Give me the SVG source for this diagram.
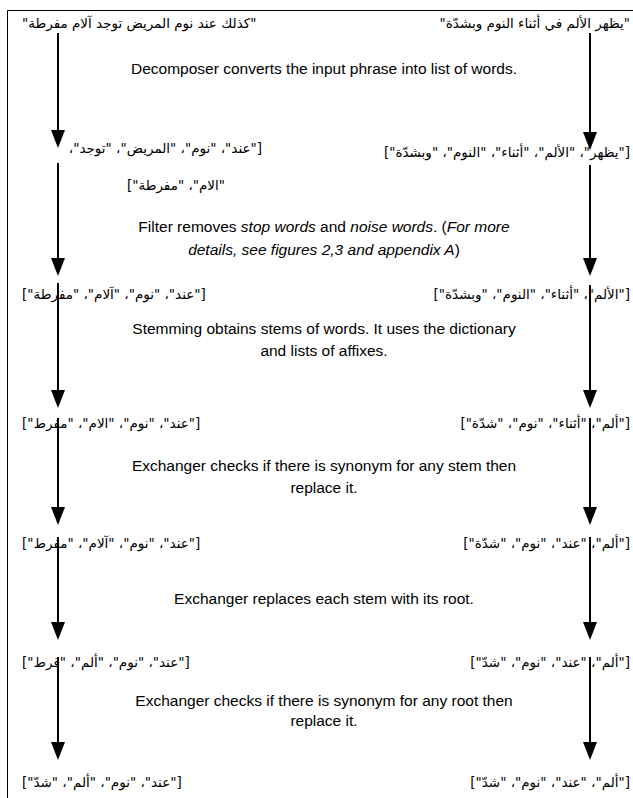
<svg xmlns="http://www.w3.org/2000/svg" width="633" height="798" viewBox="0 0 633 798">
  <defs>
    <style>
      .frame { stroke: #000; stroke-width: 1; fill: none; }
      .en { font-family: "Liberation Sans", Arial, sans-serif; font-size: 15.5px; fill: #000; text-anchor: middle; }
      .it { font-style: italic; }
      .ar { font-family: "DejaVu Sans", "Noto Sans", sans-serif; font-size: 13.5px; fill: #000; direction: rtl; unicode-bidi: embed; }
      .ar-r { text-anchor: start; }
      .ar-l { text-anchor: end; }
      #connectors line { stroke: #000; stroke-width: 2; marker-end: url(#head); }
    </style>
    <!-- downward filled arrowhead; line end sits 4px above the tip -->
    <marker id="head" viewBox="0 0 14 18" refX="7" refY="14" markerWidth="14" markerHeight="18" markerUnits="userSpaceOnUse" orient="0">
      <path d="M0,0 L14,0 L7,18 Z" fill="#000"/>
    </marker>
  </defs>

  <rect width="633" height="798" fill="#fff"/>
  <!-- page frame (top and left edges) -->
  <path class="frame" d="M7.5,798 V10.5 H633"/>

  <!-- left column: second sentence -->
  <g id="left-input"><text class="ar ar-l" x="22" y="28">"كذلك عند نوم المريض توجد آلام مفرطة"</text></g>
  <g id="left-words">
    <text class="ar ar-r" x="262" y="153">["عند"، "نوم"، "المريض"، "توجد"،</text>
    <text class="ar ar-r" x="225" y="190">"الام"، "مفرطة"]</text>
  </g>
  <g id="left-filtered"><text class="ar ar-l" x="22" y="299">["عند"، "نوم"، "آلام"، "مفرطة"]</text></g>
  <g id="left-stems"><text class="ar ar-l" x="22" y="428">["عند"، "نوم"، "الام"، "مفرط"]</text></g>
  <g id="left-stem-synonyms"><text class="ar ar-l" x="22" y="548">["عند"، "نوم"، "آلام"، "مفرط"]</text></g>
  <g id="left-roots"><text class="ar ar-l" x="22" y="667">["عند"، "نوم"، "ألم"، "قرط"]</text></g>
  <g id="left-root-synonyms"><text class="ar ar-l" x="22" y="787">["عند"، "نوم"، "ألم"، "شدّ"]</text></g>

  <!-- right column: first sentence -->
  <g id="right-input"><text class="ar ar-r" x="630" y="28">"يظهر الألم في أثناء النوم وبشدّة"</text></g>
  <g id="right-words"><text class="ar ar-r" x="630" y="157">["يظهر"، "الألم"، "أثناء"، "النوم"، "وبشدّة"]</text></g>
  <g id="right-filtered"><text class="ar ar-r" x="630" y="299">["الألم"، "أثناء"، "النوم"، "وبشدّة"]</text></g>
  <g id="right-stems"><text class="ar ar-r" x="630" y="428">["ألم"، "أثناء"، "نوم"، "شدّة"]</text></g>
  <g id="right-stem-synonyms"><text class="ar ar-r" x="630" y="548">["ألم"، "عند"، "نوم"، "شدّة"]</text></g>
  <g id="right-roots"><text class="ar ar-r" x="630" y="667">["ألم"، "عند"، "نوم"، "شدّ"]</text></g>
  <g id="right-root-synonyms"><text class="ar ar-r" x="630" y="787">["ألم"، "عند"، "نوم"، "شدّ"]</text></g>

  <!-- processing steps -->
  <g id="step-decomposer"><text class="en" x="324" y="74">Decomposer converts the input phrase into list of words.</text></g>
  <g id="step-filter">
    <text class="en" x="324" y="232">Filter removes <tspan class="it">stop words</tspan> and <tspan class="it">noise words</tspan>. (<tspan class="it">For more</tspan></text>
    <text class="en" x="324" y="255"><tspan class="it">details, see figures 2,3 and appendix A</tspan>)</text>
  </g>
  <g id="step-stemming">
    <text class="en" x="324" y="334">Stemming obtains stems of words. It uses the dictionary</text>
    <text class="en" x="324" y="356">and lists of affixes.</text>
  </g>
  <g id="step-stem-synonyms">
    <text class="en" x="324" y="471">Exchanger checks if there is synonym for any stem then</text>
    <text class="en" x="324" y="493">replace it.</text>
  </g>
  <g id="step-roots"><text class="en" x="324" y="604">Exchanger replaces each stem with its root.</text></g>
  <g id="step-root-synonyms">
    <text class="en" x="324" y="706">Exchanger checks if there is synonym for any root then</text>
    <text class="en" x="324" y="726">replace it.</text>
  </g>

  <g id="connectors">
    <line x1="58" y1="33" x2="58" y2="144"/>
    <line x1="58" y1="163" x2="58" y2="272"/>
    <line x1="58" y1="283" x2="58" y2="404"/>
    <line x1="58" y1="418" x2="58" y2="521"/>
    <line x1="58" y1="537" x2="58" y2="636"/>
    <line x1="58" y1="657" x2="58" y2="756"/>
    <line x1="590" y1="33" x2="590" y2="146"/>
    <line x1="590" y1="165" x2="590" y2="272"/>
    <line x1="590" y1="285" x2="590" y2="404"/>
    <line x1="590" y1="418" x2="590" y2="521"/>
    <line x1="590" y1="537" x2="590" y2="636"/>
    <line x1="590" y1="657" x2="590" y2="756"/>
  </g>
</svg>
